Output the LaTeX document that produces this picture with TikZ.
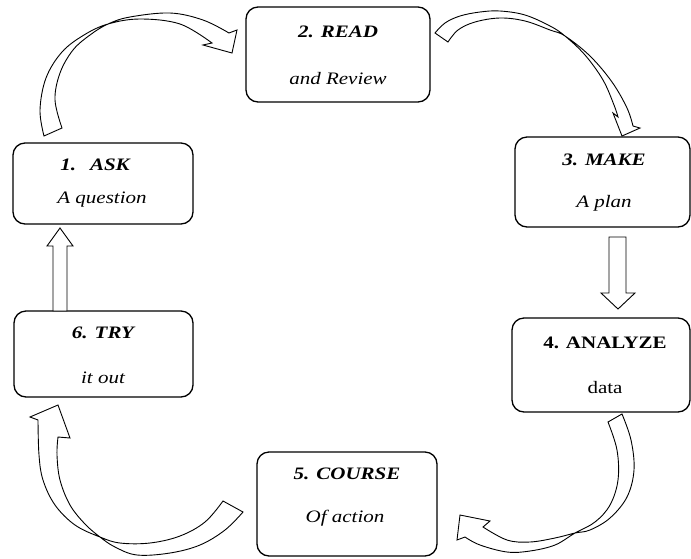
\documentclass[tikz,border=0pt]{standalone}
\usepackage{fontspec}
\setmainfont{Liberation Serif}[FakeStretch=1.2]
\begin{document}
\begin{tikzpicture}[x=1pt,y=-1pt,
  stagebox/.style={draw, line width=1.3pt, rounded corners=12pt, inner sep=0pt},
  lbl/.style={anchor=base, inner sep=0pt, font=\fontsize{17.5}{20}\selectfont},
  hd/.style={anchor=base, inner sep=0pt, font=\fontsize{17.5}{20}\selectfont\bfseries\itshape},
  sub/.style={anchor=base, inner sep=0pt, font=\fontsize{17.5}{20}\selectfont\itshape},
  blockarrow/.style={draw, line width=0.9pt, fill=white, line join=miter},
  smoothplot/.style={smooth, tension=0.6}]
\useasboundingbox (0,0) rectangle (691,558);

% boxes
\node[stagebox, minimum width=180pt, minimum height=81pt]  (ask)     at (103,183.5) {};
\node[stagebox, minimum width=184pt, minimum height=95pt]  (read)    at (338,54.5)  {};
\node[stagebox, minimum width=175pt, minimum height=90pt]  (make)    at (602.5,182) {};
\node[stagebox, minimum width=178pt, minimum height=94pt]  (analyze) at (601,365)   {};
\node[stagebox, minimum width=180pt, minimum height=104pt] (course)  at (347,504)   {};
\node[stagebox, minimum width=179pt, minimum height=86pt]  (try)     at (103.5,354) {};

% texts
\node[hd]  (askh)  at (95,170)  {1.\hspace{14pt}ASK};
\node[sub] (asks)  at (102,203) {A question};
\node[hd]  (readh) at (338,37)  {2. READ};
\node[sub] (reads) at (338,84)  {and Review};
\node[hd]  (makeh) at (604,165) {3. MAKE};
\node[sub] (makes) at (604,207) {A plan};
\node[lbl, font=\fontsize{17.5}{20}\selectfont\bfseries] (anah) at (605,348) {4. ANALYZE};
\node[lbl] (anas)  at (605,393) {data};
\node[hd]  (courh) at (347,479) {5. COURSE};
\node[sub] (cours) at (345,522) {Of action};
\node[hd]  (tryh)  at (103,338) {6. TRY};
\node[sub] (trys)  at (103,383) {it out};

% straight block arrows
\draw[blockarrow] (609,237) -- (626,237) -- (626,293) -- (635,293) -- (618,309)
  -- (601,293) -- (609,293) -- cycle;
\draw[blockarrow] (53,311) -- (53,246) -- (47,246) -- (60,228) -- (73,246)
  -- (67,246) -- (67,311) -- cycle;

% curved arrow: ask -> read
\draw[blockarrow] (44,136)
  -- plot[smoothplot] coordinates {(62,128) (55,100) (60,73) (73,50) (90,35) (108,24) (130,17) (170,13) (203,20) (229,33)}
  -- (237,30) -- (232,53) -- (203,45)
  -- plot[smoothplot] coordinates {(212,43) (180,24) (140,19) (108,24) (84,35) (62,52) (46,78) (40,110) (44,136)}
  -- cycle;

% curved arrow: read -> make
\draw[blockarrow] (435,33)
  -- plot[smoothplot] coordinates {(448,42) (458,30) (475,22) (500,18) (525,21) (550,30) (565,36) (590,56) (612,82) (627,108) (633,126)}
  -- (640,128) -- (622,136) -- (613,113)
  -- plot[smoothplot] coordinates {(618,117) (614,105) (603,80) (585,55) (565,36) (550,26) (525,15) (500,11) (480,12) (460,16) (445,23) (435,33)}
  -- cycle;

% curved arrow: analyze -> course
\draw[blockarrow] (608,422)
  -- plot[smoothplot] coordinates {(622,414) (631,440) (634,470) (627,497) (610,518) (590,530) (575,533) (555,538) (530,542) (507,540) (483,527)}
  -- (490,521) -- (460,515) -- (457,540)
  -- plot[smoothplot] coordinates {(465,537) (480,545) (507,552) (530,551) (555,545) (575,533) (595,522) (610,505) (618,480) (617,450) (608,422)}
  -- cycle;

% curved arrow: course -> try
\draw[blockarrow] (243,512)
  -- plot[smoothplot] coordinates {(223,501) (205,522) (180,536) (150,543) (120,543) (100,537) (75,525) (55,505) (43,480) (39,455) (38,420)}
  -- (30,417) -- (58,405) -- (70,438)
  -- plot[smoothplot] coordinates {(58,437) (57,455) (60,480) (70,505) (85,524) (100,537) (115,547) (137,555) (170,553) (200,545) (225,530) (243,512)}
  -- cycle;
\end{tikzpicture}
\end{document}
